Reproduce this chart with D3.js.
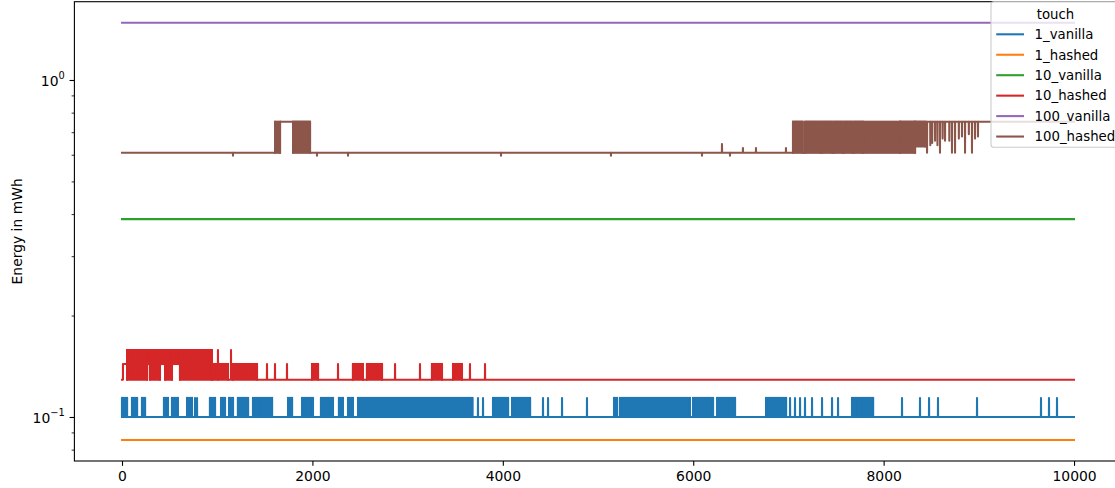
<!DOCTYPE html>
<html>
<head>
<meta charset="utf-8">
<script src="https://cdn.jsdelivr.net/npm/d3@7"></script>
<style>
  body { margin: 0; background: #fff; }
  svg text { font-family: "DejaVu Sans", sans-serif; fill: #000; }
</style>
</head>
<body>
<svg id="chart" width="1115" height="488"></svg>
<script>
// ---- data -------------------------------------------------------------
const seriesNames  = ["1_vanilla", "1_hashed", "10_vanilla", "10_hashed", "100_vanilla", "100_hashed"];
const seriesColors = ["#1f77b4", "#ff7f0e", "#2ca02c", "#d62728", "#9467bd", "#8c564b"];
const restLevels   = [0.1, 0.0855, 0.3865, 0.129, 1.479, 0.608];
const xFirst = 0, xLast = 9999;
const xTickValues = [0, 2000, 4000, 6000, 8000, 10000];
const yMajorTicks = [0.1, 1];
const yMinorTicks = [0.08, 0.09, 0.2, 0.3, 0.4, 0.5, 0.6, 0.7, 0.8, 0.9];

// 1_vanilla: rests at 0.1, flips up to 0.1139
const v1High = 0.1139;
const v1BusySpans = [[0,53],[105,158],[210,242],[441,483],[525,588],[683,735],[924,977],
  [1040,1082],[1124,1166],[1218,1324],[1376,1408],[1429,1523],[1544,1576],[1744,1786],
  [1891,1943],[1964,2006],[2090,2216],[2279,2321],[2374,2426],[2479,3680],[3897,4055],
  [4097,4286],[5168,5200],[5231,5966],[5998,6208],[6250,6439],[6765,6975],[7668,7731],[7752,7889]];
const v1Spikes = [767, 788, 3739, 3792, 4422, 4475, 4622, 4884, 7017, 7069, 7122, 7174, 7248,
  7353, 7458, 7521, 8193, 8382, 8477, 8571, 8981, 9653, 9737, 9821];

// 10_hashed: rests at 0.129, steps up to 0.1436 or 0.158
const h10Mid = 0.1436, h10High = 0.158;
const h10Plateaus = [[10, 53, h10Mid]];
const h10BusySpans = [[53,263,0.129,h10High],[263,294,h10Mid,h10High],[294,399,0.129,h10High],
  [399,452,h10Mid,h10High],[452,525,0.129,h10High],[525,609,h10Mid,h10High],[609,945,0.129,h10High],
  [945,1113,0.129,h10Mid],[1166,1418,0.129,h10Mid],[1996,2059,0.129,h10Mid],[2426,2531,0.129,h10Mid],
  [2573,2731,0.129,h10Mid],[3256,3361,0.129,h10Mid],[3477,3571,0.129,h10Mid]];
const h10Spikes = [[1008,h10High],[1145,h10High],[1523,h10Mid],[1607,h10Mid],[1733,h10Mid],
  [2269,h10Mid],[2868,h10Mid],[3130,h10Mid],[3655,h10Mid],[3813,h10Mid]];

// 100_hashed: rests at 0.608, steps up to 0.752
const h100High = 0.752;
const h100Plateaus = [[1660, 1797, h100High], [8172, 9999, h100High]];
const h100BusySpans = [[1608,1660,0.608,h100High],[1797,1975,0.608,h100High],
  [7048,7150,0.608,h100High],[7175,7335,0.608,h100High],[7352,7460,0.608,h100High],
  [7478,7566,0.608,h100High],[7584,7670,0.608,h100High],[7688,7776,0.608,h100High],
  [7790,8172,0.608,h100High],[8172,8330,0.608,h100High],[8330,8435,0.635,h100High]];
const h100Spikes = [[1166,0.596],[2048,0.596],[2374,0.596],[3981,0.596],[5136,0.596],[6092,0.596],
  [6302,0.646],[6386,0.596],[6522,0.628],[6659,0.628],[6974,0.628],
  [8456,0.608],[8490,0.64],[8510,0.65],[8540,0.66],[8565,0.64],[8592,0.608],[8620,0.67],
  [8645,0.66],[8690,0.66],[8718,0.608],[8750,0.608],[8790,0.67],[8823,0.68],[8855,0.608],
  [8895,0.69],[8928,0.608],[8960,0.67],[8991,0.68]];

// ---- series assembly ----------------------------------------------------
const series = seriesNames.map((name, i) => ({
  name, color: seriesColors[i], base: restLevels[i], plateaus: [], busy: [], spikes: []
}));
series[0].busy = v1BusySpans.map(([a, b]) => [a, b, restLevels[0], v1High]);
series[0].spikes = v1Spikes.map(s => [s, v1High]);
series[3].plateaus = h10Plateaus;
series[3].busy = h10BusySpans;
series[3].spikes = h10Spikes;
series[5].plateaus = h100Plateaus;
series[5].busy = h100BusySpans;
series[5].spikes = h100Spikes;

function seriesPoints(s) {
  const level = v => {
    for (const p of s.plateaus) if (v >= p[0] && v <= p[1]) return p[2];
    return s.base;
  };
  const events = [];
  s.plateaus.forEach(([a, b, v]) => {
    events.push({ x: a, pts: [[a, s.base], [a, v]] });
    if (b < xLast) events.push({ x: b, pts: [[b, v], [b, s.base]] });
  });
  s.busy.forEach(([a, b, lo, hi]) => {
    const la = level(a), lb = level(b);
    events.push({ x: a, pts: [[a, la], [a, hi], [a, lo], [a, hi]] });
    events.push({ x: b, pts: [[b, hi], [b, lo], [b, hi], [b, lb]] });
  });
  s.spikes.forEach(([t, v]) => {
    const l = level(t);
    events.push({ x: t, pts: [[t - 1, l], [t, v], [t + 1, l]] });
  });
  events.sort((p, q) => p.x - q.x);
  const pts = [[xFirst, level(xFirst)]];
  events.forEach(e => pts.push(...e.pts));
  pts.push([xLast, level(xLast)]);
  return pts;
}

// ---- layout ---------------------------------------------------------------
const svg = d3.select("#chart");
const plotLeft = 74.4, plotRight = 1121.6, plotTop = 1.7, plotBottom = 461;
const lw = 2.08;

const x = d3.scaleLinear().domain([-500, 10499.5]).range([plotLeft, plotRight]);
const y = d3.scaleLog().domain([Math.pow(10, -1.1306), Math.pow(10, 0.2323)]).range([plotBottom, plotTop]);

svg.append("defs").append("clipPath").attr("id", "plotClip")
  .append("rect").attr("x", plotLeft).attr("y", plotTop)
  .attr("width", plotRight - plotLeft).attr("height", plotBottom - plotTop);

const plot = svg.append("g").attr("clip-path", "url(#plotClip)");
const line = d3.line().x(d => x(d[0])).y(d => y(d[1]));

series.forEach(s => {
  const g = plot.append("g");
  g.selectAll("rect.band").data(s.busy).join("rect")
    .attr("class", "band")
    .attr("x", d => x(d[0])).attr("width", d => x(d[1]) - x(d[0]))
    .attr("y", d => y(d[3])).attr("height", d => y(d[2]) - y(d[3]))
    .attr("fill", s.color).attr("stroke", s.color).attr("stroke-width", lw);
  g.append("path").datum(seriesPoints(s))
    .attr("d", line).attr("fill", "none")
    .attr("stroke", s.color).attr("stroke-width", lw)
    .attr("stroke-linejoin", "round").attr("stroke-linecap", "square");
});

// ---- axes -----------------------------------------------------------------
const fs = 13.9;
const xAxis = svg.append("g").attr("transform", `translate(0,${plotBottom})`)
  .call(d3.axisBottom(x).tickValues(xTickValues).tickFormat(d3.format("d"))
    .tickSize(4.86).tickPadding(4.86));
xAxis.select(".domain").remove();
xAxis.selectAll("line").attr("stroke", "#000").attr("stroke-width", 1.1);
xAxis.selectAll("text").attr("font-size", fs).attr("font-family", "DejaVu Sans");

const yMinor = svg.append("g").attr("transform", `translate(${plotLeft},0)`)
  .call(d3.axisLeft(y).tickValues(yMinorTicks).tickFormat("").tickSize(2.78));
yMinor.select(".domain").remove();
yMinor.selectAll("line").attr("stroke", "#000").attr("stroke-width", 0.83);

const yMajor = svg.append("g").attr("transform", `translate(${plotLeft},0)`)
  .call(d3.axisLeft(y).tickValues(yMajorTicks).tickFormat("").tickSize(4.86));
yMajor.select(".domain").remove();
yMajor.selectAll("line").attr("stroke", "#000").attr("stroke-width", 1.1);
yMajor.selectAll(".tick").each(function (d) {
  const t = d3.select(this).select("text")
    .attr("x", -9.7).attr("dy", null).attr("y", 5.2)
    .attr("text-anchor", "end").attr("font-size", fs).attr("font-family", "DejaVu Sans");
  t.text(null);
  const e = Math.round(Math.log10(d));
  t.append("tspan").text("10");
  t.append("tspan").attr("dy", -6.2).attr("font-size", 9.8)
    .text(e < 0 ? "\u2212" + Math.abs(e) : String(e));
});

// spines
svg.append("rect").attr("x", plotLeft).attr("y", plotTop)
  .attr("width", plotRight - plotLeft).attr("height", plotBottom - plotTop)
  .attr("fill", "none").attr("stroke", "#000").attr("stroke-width", 1.1);

// y axis title
svg.append("text")
  .attr("transform", `translate(22,${(plotTop + plotBottom) / 2}) rotate(-90)`)
  .attr("text-anchor", "middle").attr("font-size", fs)
  .text("Energy in mWh");

// ---- legend ---------------------------------------------------------------
const lfs = 13.3;
const legW = 128, legH = 145.5, legX = 991, legY = plotTop;
const legend = svg.append("g");
legend.append("rect").attr("x", legX).attr("y", legY)
  .attr("width", legW).attr("height", legH).attr("rx", 2.8)
  .attr("fill", "#fff").attr("fill-opacity", 0.8)
  .attr("stroke", "#cccccc").attr("stroke-width", 1.1);
legend.append("text").attr("x", 1055.5).attr("y", legY + 17.2)
  .attr("text-anchor", "middle").attr("font-size", lfs).text("touch");
const rowY = i => legY + 32.6 + i * 20.45;
const handleX0 = legX + 5.2, handleX1 = handleX0 + 27.8;
legend.selectAll("line.h").data(series).join("line").attr("class", "h")
  .attr("x1", handleX0).attr("x2", handleX1)
  .attr("y1", (d, i) => rowY(i)).attr("y2", (d, i) => rowY(i))
  .attr("stroke", d => d.color).attr("stroke-width", lw);
legend.selectAll("text.l").data(series).join("text").attr("class", "l")
  .attr("x", handleX1 + 10.6).attr("y", (d, i) => rowY(i) + 4.8)
  .attr("font-size", lfs).text(d => d.name);
</script>
</body>
</html>
